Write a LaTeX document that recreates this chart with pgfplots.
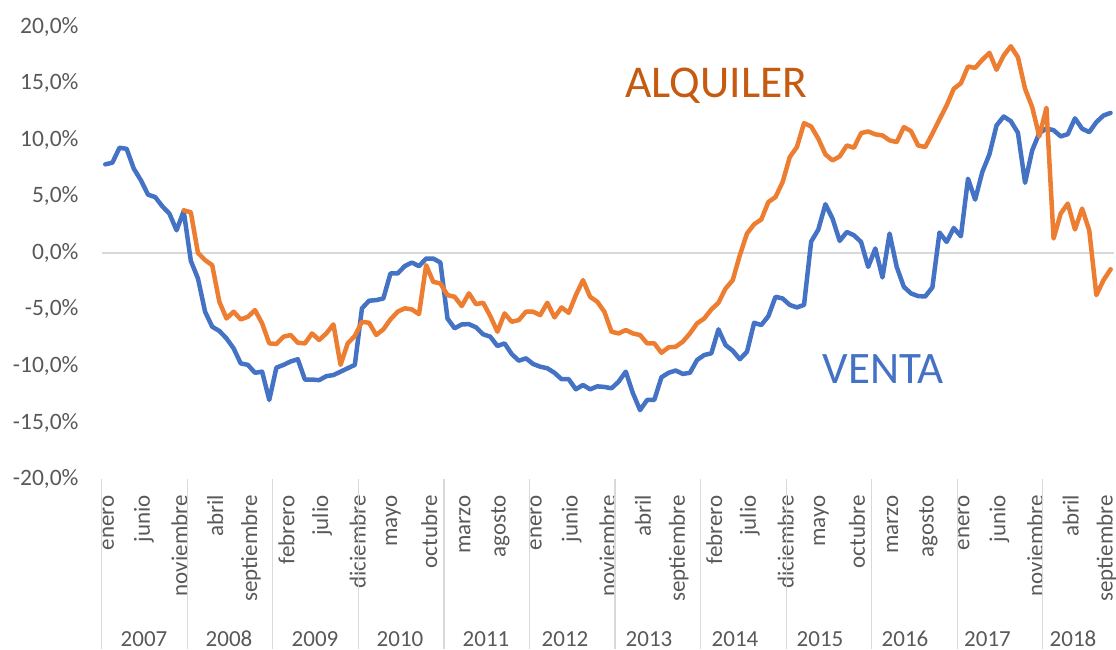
\documentclass[border=0pt]{standalone}
\usepackage{fontspec}
\setmainfont{Carlito}
\usepackage{pgfplots}
\pgfplotsset{compat=1.18}
\usepackage{pgfplotstable}
\definecolor{venta}{HTML}{4472C4}
\definecolor{alq}{HTML}{ED7D31}
\definecolor{alqtxt}{HTML}{C55A11}
\definecolor{lbl}{HTML}{595959}
\definecolor{grd}{HTML}{D9D9D9}

\pgfplotstableread{
i venta alquiler
0 7.83 nan
1 7.98 nan
2 9.3 nan
3 9.2 nan
4 7.45 nan
5 6.42 nan
6 5.15 nan
7 4.94 nan
8 4.12 nan
9 3.47 nan
10 2.0 nan
11 3.7 3.77
12 -0.7 3.59
13 -2.26 0.0
14 -5.2 -0.64
15 -6.53 -1.09
16 -6.9 -4.32
17 -7.56 -5.8
18 -8.44 -5.2
19 -9.77 -5.88
20 -9.9 -5.65
21 -10.6 -5.06
22 -10.5 -6.23
23 -13.0 -8.0
24 -10.15 -8.05
25 -9.9 -7.41
26 -9.6 -7.26
27 -9.4 -7.94
28 -11.2 -8.0
29 -11.2 -7.12
30 -11.25 -7.7
31 -10.9 -7.12
32 -10.8 -6.32
33 -10.5 -9.9
34 -10.2 -8.0
35 -9.9 -7.35
36 -4.9 -6.09
37 -4.23 -6.18
38 -4.17 -7.26
39 -4.03 -6.76
40 -1.82 -5.88
41 -1.82 -5.2
42 -1.17 -4.9
43 -0.85 -5.0
44 -1.17 -5.41
45 -0.5 -1.09
46 -0.5 -2.56
47 -0.85 -2.7
48 -5.8 -3.73
49 -6.67 -3.88
50 -6.32 -4.7
51 -6.3 -3.58
52 -6.58 -4.53
53 -7.2 -4.41
54 -7.41 -5.59
55 -8.23 -6.97
56 -8.0 -5.35
57 -8.94 -6.09
58 -9.53 -5.94
59 -9.32 -5.2
60 -9.82 -5.2
61 -10.06 -5.5
62 -10.2 -4.41
63 -10.6 -5.7
64 -11.17 -4.82
65 -11.17 -5.3
66 -12.06 -3.73
67 -11.68 -2.41
68 -12.06 -3.88
69 -11.8 -4.32
70 -11.85 -5.2
71 -11.97 -6.97
72 -11.38 -7.12
73 -10.5 -6.82
74 -12.4 -7.12
75 -13.9 -7.26
76 -13.0 -8.0
77 -13.0 -8.0
78 -11.0 -8.83
79 -10.6 -8.35
80 -10.4 -8.3
81 -10.7 -7.85
82 -10.6 -7.12
83 -9.47 -6.23
84 -9.03 -5.8
85 -8.88 -5.0
86 -6.76 -4.41
87 -8.15 -3.15
88 -8.65 -2.41
89 -9.4 -0.2
90 -8.74 1.71
91 -6.18 2.53
92 -6.38 2.95
93 -5.59 4.5
94 -3.88 4.94
95 -4.03 6.27
96 -4.6 8.47
97 -4.82 9.36
98 -4.6 11.47
99 1.0 11.18
100 2.06 10.1
101 4.3 8.71
102 3.03 8.18
103 1.06 8.53
104 1.85 9.5
105 1.56 9.3
106 0.97 10.59
107 -1.24 10.74
108 0.39 10.48
109 -2.17 10.39
110 1.71 9.95
111 -1.24 9.8
112 -3.0 11.12
113 -3.58 10.77
114 -3.82 9.5
115 -3.85 9.36
116 -3.05 10.54
117 1.8 11.8
118 0.97 13.04
119 2.2 14.51
120 1.47 15.0
121 6.56 16.48
122 4.71 16.36
123 7.15 17.07
124 8.71 17.69
125 11.27 16.19
126 12.06 17.45
127 11.65 18.27
128 10.62 17.3
129 6.2 14.51
130 9.06 12.89
131 10.6 10.3
132 11.0 12.83
133 10.85 1.27
134 10.3 3.48
135 10.5 4.36
136 11.9 2.07
137 10.98 3.92
138 10.68 2.0
139 11.56 -3.73
140 12.15 -2.41
141 12.38 -1.45
}\datatable

\begin{document}
\begin{tikzpicture}[x=1pt,y=1pt]
\useasboundingbox (0,0) rectangle (1116,649);
\begin{axis}[
  at={(101.7pt,169.9pt)}, anchor=south west,
  scale only axis, width=1012.5pt, height=452.4pt,
  xmin=-0.5, xmax=141.5, ymin=-20, ymax=20,
  axis line style={draw=none},
  major tick length=0pt,
  ytick={-20,-15,...,20},
  yticklabels={{-20,0\%},{-15,0\%},{-10,0\%},{-5,0\%},{0,0\%},{5,0\%},{10,0\%},{15,0\%},{20,0\%}},
  yticklabel style={font=\fontsize{23.5}{28}\selectfont, text=lbl, anchor=east, inner sep=0pt, xshift=-23pt},
  xtick={0,5,...,140},
  xticklabels={enero,junio,noviembre,abril,septiembre,febrero,julio,diciembre,mayo,octubre,marzo,agosto,enero,junio,noviembre,abril,septiembre,febrero,julio,diciembre,mayo,octubre,marzo,agosto,enero,junio,noviembre,abril,septiembre},
  xticklabel style={font=\fontsize{23}{28}\selectfont, text=lbl, xshift=3pt, rotate=90, anchor=east, inner sep=0pt},
  xticklabel shift=16pt,
  extra y ticks={0}, extra y tick labels={},
  extra y tick style={grid=major, grid style={grd, line width=1.2pt}},
  clip=false,
]
\addplot[venta, line width=4.5pt, line join=round, line cap=round] table[x=i, y=venta]{\datatable};
\addplot[alq, line width=4.5pt, line join=round, line cap=round] table[x=i, y=alquiler]{\datatable};
\end{axis}
\foreach \k in {0,...,11} \draw[grd, line width=1.2pt] ({101.7+85.56*\k},169.9) -- ({101.7+85.56*\k},0);
\foreach \yr/\xc in {2007/144,2008/229,2009/315,2010/400,2011/486,2012/565,2013/649,2014/735,2015/820,2016/905,2017/987.5,2018/1073}
  \node[anchor=base, font=\fontsize{23}{28}\selectfont, text=lbl, inner sep=0pt] at (\xc,2.3) {\yr};
\node[anchor=base west, inner sep=0pt, font=\fontsize{45.5}{50}\selectfont, text=alqtxt] at (625,551) {ALQUILER};
\node[anchor=base west, inner sep=0pt, font=\fontsize{45}{50}\selectfont, text=venta] at (822.7,265.7) {VENTA};
\end{tikzpicture}
\end{document}
